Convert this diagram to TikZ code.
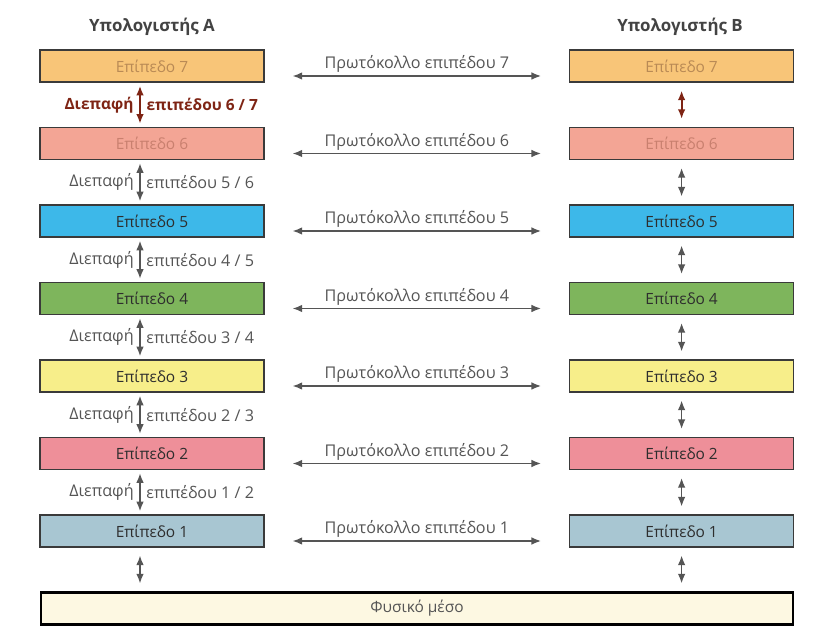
\documentclass[tikz,border=0pt]{standalone}
\usepackage{fontspec}
\setmainfont{Open Sans}
\usetikzlibrary{arrows.meta}

\definecolor{lay7}{HTML}{F8C578}
\definecolor{lay6}{HTML}{F3A595}
\definecolor{lay5}{HTML}{3DB8E9}
\definecolor{lay4}{HTML}{7EB55C}
\definecolor{lay3}{HTML}{F7EE8A}
\definecolor{lay2}{HTML}{EE8F99}
\definecolor{lay1}{HTML}{A8C6D2}
\definecolor{medium}{HTML}{FDF8E2}
\definecolor{txtseven}{HTML}{B98A55}
\definecolor{txtsix}{HTML}{C9806F}
\definecolor{boxline}{HTML}{3A3A3A}
\definecolor{arrowgray}{HTML}{555555}
\definecolor{textgray}{HTML}{2E2E2E}
\definecolor{labelgray}{HTML}{555555}
\definecolor{darkred}{HTML}{7E2414}

\begin{document}
\begin{tikzpicture}[
    layer/.style={draw=boxline, line width=0.8pt, minimum width=5.6cm, minimum height=0.8cm, inner sep=0pt, text=textgray, font=\fontsize{11}{13}\selectfont},
    link/.style={{Latex[length=2.4mm,width=1.9mm]}-{Latex[length=2.4mm,width=1.9mm]}, line width=1pt, arrowgray},
    proto/.style={text=labelgray, font=\fontsize{11.5}{13}\selectfont, inner sep=2pt},
    iflabel/.style={text=labelgray, font=\fontsize{11.5}{13}\selectfont, inner sep=0pt},
    header/.style={text=textgray!90, font=\bfseries\fontsize{12}{14}\selectfont}
]
    \useasboundingbox (0,0) rectangle (20.725,15.7);

    % Headers
    \node[header] (hA) at (3.8,15.025) {Υπολογιστής Α};
    \node[header] (hB) at (17.0,15.025) {Υπολογιστής Β};

    % Layers of computer A
    \node[layer, fill=lay7, text=txtseven] (A7) at (3.8,14.05) {Επίπεδο 7};
    \node[layer, fill=lay6, text=txtsix] (A6) at (3.8,12.1125) {Επίπεδο 6};
    \node[layer, fill=lay5] (A5) at (3.8,10.175) {Επίπεδο 5};
    \node[layer, fill=lay4] (A4) at (3.8,8.2375) {Επίπεδο 4};
    \node[layer, fill=lay3] (A3) at (3.8,6.3) {Επίπεδο 3};
    \node[layer, fill=lay2] (A2) at (3.8,4.3625) {Επίπεδο 2};
    \node[layer, fill=lay1] (A1) at (3.8,2.425) {Επίπεδο 1};

    % Layers of computer B
    \node[layer, fill=lay7, text=txtseven] (B7) at (17.04,14.05) {Επίπεδο 7};
    \node[layer, fill=lay6, text=txtsix] (B6) at (17.04,12.1125) {Επίπεδο 6};
    \node[layer, fill=lay5] (B5) at (17.04,10.175) {Επίπεδο 5};
    \node[layer, fill=lay4] (B4) at (17.04,8.2375) {Επίπεδο 4};
    \node[layer, fill=lay3] (B3) at (17.04,6.3) {Επίπεδο 3};
    \node[layer, fill=lay2] (B2) at (17.04,4.3625) {Επίπεδο 2};
    \node[layer, fill=lay1] (B1) at (17.04,2.425) {Επίπεδο 1};

    % Physical medium
    \node[draw=black, line width=1.6pt, fill=medium, minimum width=18.8cm, minimum height=0.8cm, text=labelgray, font=\fontsize{11}{13}\selectfont] (phys) at (10.425,0.4875) {Φυσικό μέσο};

    % Protocols between peer layers
    \draw[link, shorten <=0.7cm, shorten >=0.7cm] ([yshift=-0.25cm]A7.east) -- node[above, proto] (p7) {Πρωτόκολλο επιπέδου 7} ([yshift=-0.25cm]B7.west);
    \draw[link, shorten <=0.7cm, shorten >=0.7cm] ([yshift=-0.25cm]A6.east) -- node[above, proto] (p6) {Πρωτόκολλο επιπέδου 6} ([yshift=-0.25cm]B6.west);
    \draw[link, shorten <=0.7cm, shorten >=0.7cm] ([yshift=-0.25cm]A5.east) -- node[above, proto] (p5) {Πρωτόκολλο επιπέδου 5} ([yshift=-0.25cm]B5.west);
    \draw[link, shorten <=0.7cm, shorten >=0.7cm] ([yshift=-0.25cm]A4.east) -- node[above, proto] (p4) {Πρωτόκολλο επιπέδου 4} ([yshift=-0.25cm]B4.west);
    \draw[link, shorten <=0.7cm, shorten >=0.7cm] ([yshift=-0.25cm]A3.east) -- node[above, proto] (p3) {Πρωτόκολλο επιπέδου 3} ([yshift=-0.25cm]B3.west);
    \draw[link, shorten <=0.7cm, shorten >=0.7cm] ([yshift=-0.25cm]A2.east) -- node[above, proto] (p2) {Πρωτόκολλο επιπέδου 2} ([yshift=-0.25cm]B2.west);
    \draw[link, shorten <=0.7cm, shorten >=0.7cm] ([yshift=-0.25cm]A1.east) -- node[above, proto] (p1) {Πρωτόκολλο επιπέδου 1} ([yshift=-0.25cm]B1.west);

    % Interfaces in computer A
    \draw[link, darkred, line width=1.3pt, shorten <=0.08cm, shorten >=0.08cm] ([xshift=-0.3cm]A7.south) -- node[left=4pt, iflabel, text=darkred, font=\bfseries\fontsize{11}{13}\selectfont] (d67) {Διεπαφή} node[right=4pt, iflabel, text=darkred, font=\bfseries\fontsize{11}{13}\selectfont] (e67) {επιπέδου 6 / 7} ([xshift=-0.3cm]A6.north);
    \draw[link, shorten <=0.08cm, shorten >=0.08cm] ([xshift=-0.3cm]A6.south) -- node[left=4pt, iflabel] (d56) {Διεπαφή} node[right=4pt, iflabel] (e56) {επιπέδου 5 / 6} ([xshift=-0.3cm]A5.north);
    \draw[link, shorten <=0.08cm, shorten >=0.08cm] ([xshift=-0.3cm]A5.south) -- node[left=4pt, iflabel] (d45) {Διεπαφή} node[right=4pt, iflabel] (e45) {επιπέδου 4 / 5} ([xshift=-0.3cm]A4.north);
    \draw[link, shorten <=0.08cm, shorten >=0.08cm] ([xshift=-0.3cm]A4.south) -- node[left=4pt, iflabel] (d34) {Διεπαφή} node[right=4pt, iflabel] (e34) {επιπέδου 3 / 4} ([xshift=-0.3cm]A3.north);
    \draw[link, shorten <=0.08cm, shorten >=0.08cm] ([xshift=-0.3cm]A3.south) -- node[left=4pt, iflabel] (d23) {Διεπαφή} node[right=4pt, iflabel] (e23) {επιπέδου 2 / 3} ([xshift=-0.3cm]A2.north);
    \draw[link, shorten <=0.08cm, shorten >=0.08cm] ([xshift=-0.3cm]A2.south) -- node[left=4pt, iflabel] (d12) {Διεπαφή} node[right=4pt, iflabel] (e12) {επιπέδου 1 / 2} ([xshift=-0.3cm]A1.north);
    \draw[link, shorten <=0.2cm, shorten >=0.2cm] ([xshift=-0.3cm]A1.south) -- ([xshift=-0.3cm]A1.south |- phys.north);

    % Interfaces in computer B
    \draw[link, darkred, line width=1.3pt, shorten <=0.2cm, shorten >=0.2cm] (B7.south) -- (B6.north);
    \draw[link, shorten <=0.2cm, shorten >=0.2cm] (B6.south) -- (B5.north);
    \draw[link, shorten <=0.2cm, shorten >=0.2cm] (B5.south) -- (B4.north);
    \draw[link, shorten <=0.2cm, shorten >=0.2cm] (B4.south) -- (B3.north);
    \draw[link, shorten <=0.2cm, shorten >=0.2cm] (B3.south) -- (B2.north);
    \draw[link, shorten <=0.2cm, shorten >=0.2cm] (B2.south) -- (B1.north);
    \draw[link, shorten <=0.2cm, shorten >=0.2cm] (B1.south) -- (B1.south |- phys.north);
\end{tikzpicture}
\end{document}
